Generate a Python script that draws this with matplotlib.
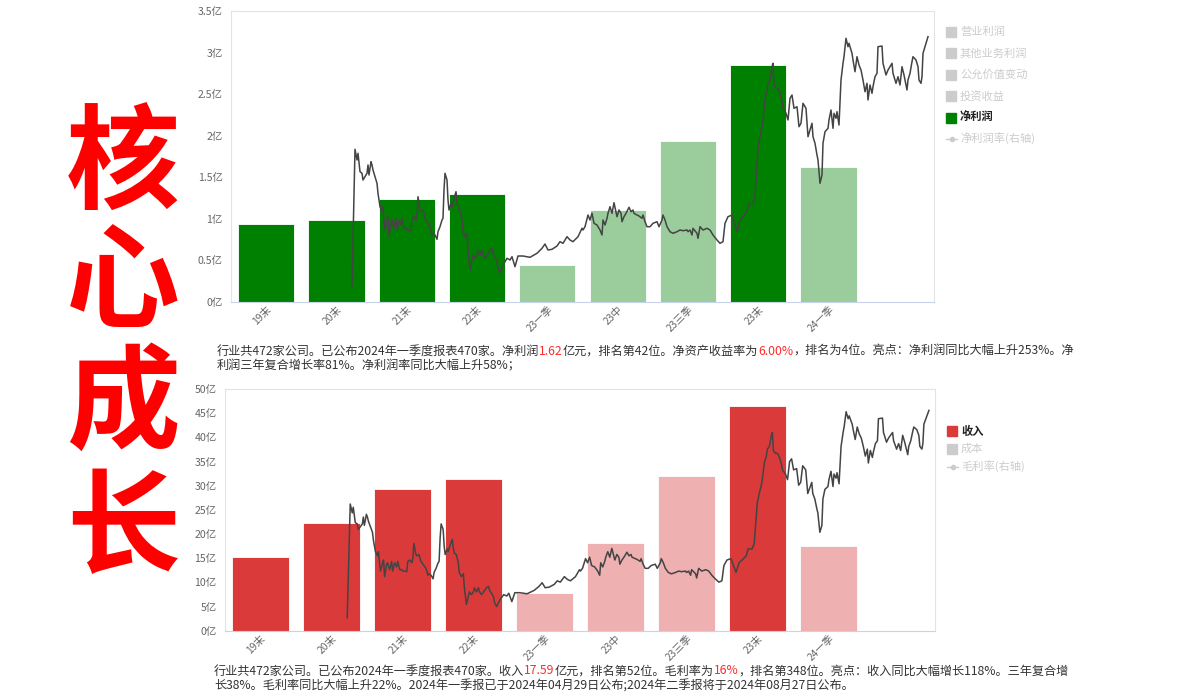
import matplotlib
matplotlib.use("Agg")
import matplotlib.pyplot as plt
from matplotlib.patches import Rectangle
from matplotlib.lines import Line2D
from matplotlib.transforms import ScaledTranslation

plt.rcParams['font.family'] = ['Noto Sans CJK SC', 'DejaVu Sans']

W, H = 1201, 699

# ---- data ----
periods = ["19末", "20末", "21末", "22末", "23一季", "23中", "23三季", "23末", "24一季"]
is_annual = [True, True, True, True, False, False, False, True, False]
net_profit = [0.93, 0.98, 1.24, 1.30, 0.44, 1.11, 1.94, 2.85, 1.62]   # 亿
revenue = [15.3, 22.2, 29.3, 31.3, 7.8, 18.1, 32.0, 46.4, 17.59]      # 亿

# share price (trading-day index, price)
price_day = [0, 3, 5, 6, 8, 10, 11, 13, 15, 16, 17, 19, 20, 21, 23, 25, 26, 28, 30, 31,
             32, 33, 35, 36, 37, 39, 40, 42, 44, 45, 47, 49, 50, 52, 54, 55, 57, 59, 60, 62,
             64, 65, 66, 68, 69, 71, 73, 74, 76, 78, 80, 81, 83, 85, 86, 88, 90, 91, 92, 93,
             95, 96, 97, 99, 100, 102, 104, 105, 106, 108, 110, 111, 113, 115, 116, 118, 120, 121, 123, 125,
             126, 128, 130, 131, 133, 135, 136, 138, 140, 141, 143, 145, 146, 148, 151, 155, 158, 160, 163, 166,
             171, 178, 185, 190, 193, 196, 200, 205, 208, 211, 215, 218, 221, 226, 230, 231, 233, 236, 238, 240,
             242, 245, 248, 250, 251, 253, 255, 256, 258, 260, 262, 264, 265, 267, 269, 270, 272, 274, 277, 279,
             281, 282, 285, 287, 290, 291, 293, 295, 298, 301, 305, 307, 310, 311, 313, 315, 318, 321, 325, 328,
             331, 335, 336, 338, 340, 341, 345, 346, 348, 351, 355, 358, 361, 365, 368, 371, 373, 376, 380, 381,
             385, 388, 391, 395, 397, 401, 403, 405, 406, 408, 410, 411, 413, 415, 416, 418, 420, 421, 422, 424,
             426, 428, 430, 431, 434, 436, 438, 440, 442, 445, 447, 449, 451, 454, 456, 458, 460, 461, 463, 465,
             466, 468, 470, 471, 473, 476, 477, 479, 481, 482, 484, 485, 487, 489, 491, 492, 494, 496, 497, 500,
             501, 503, 505, 507, 509, 511, 513, 515, 516, 518, 520, 521, 523, 525, 526, 530, 531, 534, 536, 538,
             540, 541, 544, 546, 548, 550, 552, 555, 556, 558, 560, 561, 564, 566, 567, 569, 570, 571, 573, 576]
price = [1.57, 15.24, 14.17, 14.84, 13.0, 12.84, 12.17, 12.5, 12.84, 13.67, 12.67, 14.0, 13.67, 13.17, 12.5, 11.84, 10.84, 9.5, 9.0, 9.5,
         8.17, 7.17, 8.17, 8.5, 6.5, 8.0, 8.17, 7.34, 8.34, 7.17, 8.17, 7.67, 8.34, 7.34, 7.34, 7.17, 7.17, 7.1, 8.34, 8.5,
         8.17, 8.67, 10.5, 9.17, 9.0, 9.17, 8.34, 8.17, 7.84, 7.5, 6.67, 6.84, 6.67, 6.24, 7.0, 7.5, 8.17, 8.34, 11.17, 12.84,
         12.17, 10.17, 9.17, 9.84, 9.5, 10.34, 11.0, 10.0, 9.34, 9.17, 8.17, 7.0, 6.5, 6.84, 5.17, 3.17, 4.17, 4.67, 4.34, 4.67,
         5.17, 4.67, 5.17, 4.67, 4.34, 4.67, 4.84, 5.17, 5.34, 4.84, 4.5, 4.0, 3.34, 2.9, 3.67, 4.34, 4.17, 4.5, 3.5, 4.57,
         4.57, 4.44, 4.84, 5.34, 5.77, 5.17, 5.24, 5.57, 6.0, 5.84, 6.5, 6.17, 6.0, 6.5, 7.34, 7.17, 7.5, 8.67, 8.17, 8.84,
         7.84, 7.67, 7.17, 6.67, 8.17, 7.67, 8.34, 8.84, 9.5, 8.84, 9.9, 9.0, 8.5, 9.17, 8.84, 8.0, 8.5, 8.84, 9.44, 9.0,
         9.17, 8.84, 8.67, 8.57, 8.34, 8.67, 8.0, 7.5, 7.5, 7.84, 8.0, 7.5, 8.17, 8.67, 8.17, 7.5, 7.0, 6.84, 7.0, 7.17,
         7.1, 7.17, 7.0, 7.17, 6.67, 7.34, 6.84, 6.34, 7.5, 7.17, 7.34, 7.17, 6.67, 6.17, 5.84, 6.0, 7.84, 8.5, 8.67, 8.34,
         7.0, 8.17, 8.5, 9.0, 9.84, 9.84, 10.5, 13.84, 15.34, 16.5, 17.5, 18.17, 20.17, 21.0, 21.84, 22.17, 23.5, 23.84, 21.67, 21.34,
         21.34, 20.84, 20.0, 19.34, 18.84, 18.17, 20.34, 20.67, 19.34, 19.5, 17.5, 17.84, 19.84, 19.34, 16.5, 17.17, 17.84, 16.5, 15.84, 14.67,
         14.17, 11.84, 12.67, 15.84, 17.0, 17.34, 18.17, 19.17, 17.34, 18.84, 18.34, 19.0, 17.67, 22.17, 23.84, 24.5, 26.34, 25.5, 25.84, 24.84,
         24.17, 23.0, 24.5, 23.67, 23.17, 22.17, 21.0, 21.84, 20.17, 21.67, 20.84, 21.5, 22.5, 22.84, 25.5, 25.57, 23.84, 22.67, 23.17, 23.5,
         23.84, 22.84, 21.84, 22.5, 21.67, 23.5, 22.67, 21.17, 22.17, 22.84, 24.0, 24.5, 24.17, 23.5, 22.17, 21.84, 22.5, 24.84, 25.5, 26.5]

profit_legend = ["营业利润", "其他业务利润", "公允价值变动", "投资收益", "净利润", "净利润率(右轴)"]
revenue_legend = ["收入", "成本", "毛利率(右轴)"]

note_profit = [
    [("行业共472家公司。已公布2024年一季度报表470家。净利润", False), ("1.62", True),
     ("亿元，排名第42位。净资产收益率为", False), ("6.00%", True),
     ("，排名为4位。亮点：净利润同比大幅上升253%。净", False)],
    [("利润三年复合增长率81%。净利润率同比大幅上升58%；", False)],
]
note_revenue = [
    [("行业共472家公司。已公布2024年一季度报表470家。收入", False), ("17.59", True),
     ("亿元，排名第52位。毛利率为", False), ("16%", True),
     ("，排名第348位。亮点：收入同比大幅增长118%。三年复合增", False)],
    [("长38%。毛利率同比大幅上升22%。2024年一季报已于2024年04月29日公布;2024年二季报将于2024年08月27日公布。", False)],
]

GREEN, LIGHT_GREEN = "#008000", "#9bcc9b"
RED_BAR, LIGHT_RED = "#db3a3b", "#efb0b1"
GREY_TXT = "#666666"
DISABLED = "#cccccc"


def px_rect(left, top, right, bottom):
    return [left / W, 1 - bottom / H, (right - left) / W, (bottom - top) / H]


def bar_panel(fig, rect, values, dark, light, ymax, ystep):
    ax = fig.add_axes(rect)
    colors = [dark if a else light for a in is_annual]
    ax.bar(range(len(values)), values, width=0.8, color=colors, edgecolor="white", linewidth=0.6)
    ax.set_xlim(-0.5, 9.5)
    ax.set_ylim(0, ymax)
    ticks = [i * ystep for i in range(int(round(ymax / ystep)) + 1)]
    ax.set_yticks(ticks)
    ax.set_yticklabels([f"{t:g}亿" for t in ticks], fontsize=7.6, color=GREY_TXT)
    ax.set_xticks(range(len(periods)))
    ax.set_xticklabels(periods, fontsize=7.4, color=GREY_TXT, rotation=45,
                       ha="right", rotation_mode="anchor")
    shift = ScaledTranslation(6 / 100, 0, fig.dpi_scale_trans)
    for lab in ax.get_xticklabels():
        lab.set_transform(lab.get_transform() + shift)
    ax.tick_params(length=0)
    ax.tick_params(axis="y", pad=6)
    ax.tick_params(axis="x", pad=2)
    for s in ("left", "top", "right"):
        ax.spines[s].set_color("#e3e3e3")
    ax.spines["bottom"].set_color("#c6d3ea")

    # price line on its own hidden axes
    pa = fig.add_axes(rect, frameon=False)
    pa.plot(price_day, price, color="#444444", lw=1.1)
    pa.set_xlim(-121, 582)
    pa.set_ylim(0, 29.07)
    pa.axis("off")
    return ax


def legend(fig, x, y0, step, labels, active, color):
    for i, lab in enumerate(labels):
        y = y0 + i * step
        on = i == active
        c = color if on else DISABLED
        if "右轴" in lab:
            fig.add_artist(Line2D([x / W, (x + 11) / W], [1 - y / H] * 2, color=DISABLED, lw=1))
            fig.add_artist(Line2D([(x + 5.5) / W], [1 - y / H], marker="o", ms=3, color=DISABLED))
        else:
            fig.add_artist(Rectangle((x / W, 1 - (y + 5) / H), 10 / W, 10 / H, color=c,
                                     transform=fig.transFigure))
        fig.text((x + 14) / W, 1 - y / H, lab, fontsize=8.1, va="center", ha="left",
                 color="#222222" if on else DISABLED, weight="bold" if on else "normal")


def rich_text(fig, x_px, y_px, parts):
    renderer = fig.canvas.get_renderer()
    x = x_px
    for s, hl in parts:
        t = fig.text(x / W, 1 - y_px / H, s, fontsize=8.75, va="center", ha="left",
                     color="#ff2a2a" if hl else "#333333")
        x += t.get_window_extent(renderer).width


fig = plt.figure(figsize=(W / 100, H / 100), dpi=100)

# big title
for ch, yc in zip("核心成长", [168, 286, 406, 532]):
    fig.text(123 / W, 1 - yc / H, ch, fontsize=82, color="#ff0000", weight="bold",
             ha="center", va="center")

bar_panel(fig, px_rect(231, 11, 934, 301.7), net_profit, GREEN, LIGHT_GREEN, 3.5, 0.5)
bar_panel(fig, px_rect(225, 389, 935, 630.7), revenue, RED_BAR, LIGHT_RED, 50, 5)

legend(fig, 946, 32, 21.4, profit_legend, 4, GREEN)
legend(fig, 947, 431, 18, revenue_legend, 0, RED_BAR)

for i, line in enumerate(note_profit):
    rich_text(fig, 217, 351 + i * 15, line)
for i, line in enumerate(note_revenue):
    rich_text(fig, 214, 671 + i * 15, line)

fig.savefig("out.png", dpi=100)
